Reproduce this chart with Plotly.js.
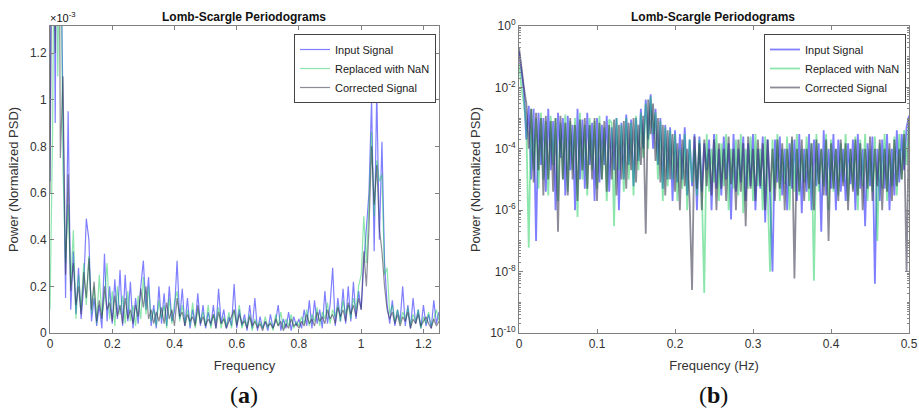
<!DOCTYPE html>
<html>
<head>
<meta charset="utf-8">
<script src="https://cdn.plot.ly/plotly-3.0.1.min.js"></script>
<style>html,body{margin:0;padding:0;background:#fff;}#chart{width:919px;height:413px;}</style>
</head>
<body>
<div id="chart"></div>
<script>
// ---------- Panel (a): power in units of 1e-3, frequency 0 .. 1.25 ----------
var fMaxA = 1.25;
var psdA_input = [0.65,3.0,0.9,2.5,1.8,0.88,0.15,0.95,0.1,0.35,0.08,0.28,0.06,0.2,0.49,0.4,0.05,0.15,0.03,0.12,
0.02,0.34,0.05,0.2,0.04,0.23,0.06,0.27,0.03,0.25,0.05,0.22,0.02,0.15,0.04,0.2,0.31,0.1,0.24,0.03,
0.12,0.02,0.2,0.04,0.17,0.03,0.2,0.05,0.09,0.31,0.06,0.19,0.03,0.15,0.02,0.1,0.04,0.17,0.03,0.12,
0.02,0.09,0.03,0.12,0.02,0.19,0.04,0.1,0.02,0.07,0.03,0.21,0.02,0.1,0.03,0.08,0.01,0.12,0.02,0.15,
0.01,0.07,0.02,0.05,0.01,0.08,0.02,0.05,0.12,0.01,0.06,0.02,0.09,0.01,0.07,0.03,0.06,0.02,0.1,0.03,
0.14,0.02,0.14,0.04,0.1,0.02,0.18,0.04,0.12,0.28,0.03,0.15,0.05,0.19,0.04,0.2,0.05,0.22,0.06,0.18,
0.1,0.3,0.46,0.6,1.0,0.35,1.04,0.4,0.82,0.3,0.12,0.04,0.14,0.03,0.1,0.05,0.2,0.03,0.12,0.02,
0.15,0.04,0.1,0.02,0.12,0.03,0.08,0.02,0.14,0.04,0.09];
var psdA_nan = [0.1,0.86,2.4,1.1,2.0,0.7,0.3,0.55,0.2,0.44,0.06,0.25,0.1,0.3,0.12,0.33,0.08,0.2,0.04,0.25,
0.07,0.15,0.3,0.06,0.18,0.03,0.2,0.08,0.16,0.04,0.18,0.05,0.12,0.03,0.16,0.06,0.24,0.08,0.2,0.05,
0.1,0.03,0.14,0.06,0.12,0.02,0.15,0.04,0.13,0.18,0.05,0.12,0.04,0.1,0.03,0.13,0.02,0.1,0.05,0.09,
0.03,0.12,0.02,0.08,0.05,0.11,0.02,0.07,0.03,0.09,0.02,0.1,0.04,0.12,0.02,0.06,0.03,0.08,0.01,0.06,
0.03,0.05,0.02,0.07,0.02,0.05,0.01,0.08,0.03,0.09,0.02,0.06,0.03,0.08,0.02,0.05,0.03,0.07,0.04,0.1,
0.03,0.08,0.05,0.11,0.03,0.09,0.06,0.13,0.04,0.1,0.07,0.12,0.05,0.14,0.08,0.12,0.06,0.15,0.1,0.2,
0.25,0.5,0.3,0.55,0.86,0.5,0.74,0.65,0.68,0.25,0.28,0.08,0.12,0.05,0.1,0.04,0.09,0.06,0.11,0.03,
0.08,0.05,0.1,0.02,0.07,0.04,0.09,0.03,0.06,0.1,0.05];
var psdA_corr = [0.6,2.2,1.2,3.0,0.75,1.1,0.25,0.68,0.18,0.3,0.12,0.2,0.08,0.26,0.15,0.32,0.1,0.22,0.05,0.14,
0.06,0.2,0.1,0.13,0.05,0.16,0.07,0.12,0.04,0.15,0.06,0.1,0.04,0.12,0.07,0.19,0.11,0.2,0.06,0.1,
0.04,0.09,0.05,0.11,0.04,0.13,0.06,0.1,0.03,0.15,0.07,0.09,0.03,0.08,0.05,0.07,0.03,0.12,0.04,0.07,
0.03,0.06,0.04,0.08,0.02,0.09,0.04,0.06,0.02,0.05,0.07,0.1,0.03,0.08,0.04,0.05,0.02,0.07,0.03,0.05,
0.02,0.04,0.01,0.05,0.03,0.04,0.02,0.06,0.03,0.05,0.01,0.04,0.02,0.06,0.03,0.04,0.02,0.05,0.03,0.08,
0.04,0.06,0.03,0.09,0.05,0.07,0.04,0.1,0.06,0.08,0.04,0.11,0.07,0.1,0.05,0.13,0.08,0.12,0.07,0.15,
0.1,0.35,0.2,0.45,0.8,0.55,0.72,0.45,0.35,0.2,0.1,0.06,0.09,0.04,0.08,0.03,0.07,0.05,0.09,0.02,
0.06,0.04,0.08,0.03,0.05,0.07,0.04,0.02,0.06,0.03,0.05];
var ticksA_x = [0, 0.2, 0.4, 0.6, 0.8, 1, 1.2];
var ticksA_xText = ["0", "0.2", "0.4", "0.6", "0.8", "1", "1.2"];
var ticksA_y = [0, 0.2, 0.4, 0.6, 0.8, 1, 1.2];
var ticksA_yText = ["0", "0.2", "0.4", "0.6", "0.8", "1", "1.2"];

// ---------- Panel (b): normalized PSD, frequency 0 .. 0.5 Hz ----------
var fMaxB = 0.5;
var psdB_input = [1.5e-1,3e-2,8e-3,2e-4,2.5e-3,1e-5,2e-3,1e-7,1.5e-3,3e-5,1e-3,4e-6,2e-3,2e-5,8e-4,1e-6,1.5e-3,5e-5,1e-3,3e-6,
1.2e-3,2e-5,6e-4,1e-6,2e-3,1e-5,9e-4,5e-6,1.5e-3,3e-5,7e-4,2e-6,1e-3,8e-6,6e-4,3e-5,1.2e-3,4e-6,5e-4,2e-5,
1e-3,1e-6,7e-4,1e-5,1.3e-3,3e-5,9e-4,6e-6,1e-3,4e-5,2e-3,1e-4,4e-3,2e-4,6e-3,1e-4,2e-3,3e-5,1e-3,5e-6,
6e-4,1e-5,5e-4,2e-6,4e-4,8e-6,3e-4,1e-5,5e-4,3e-6,2e-4,6e-6,3e-4,1e-6,2.5e-4,4e-6,1.5e-4,2e-5,2e-4,1e-6,
3e-4,5e-6,1e-4,3e-6,2.5e-4,1e-5,1.5e-4,5e-7,3e-4,4e-6,1e-4,8e-6,2.5e-4,2e-6,1.5e-4,6e-6,3e-4,1e-6,1e-4,5e-6,
2.5e-4,4e-7,2e-4,3e-6,1e-8,2e-4,8e-6,2.5e-4,3e-6,1e-4,1e-6,1.5e-4,5e-6,2e-4,2e-6,3e-4,8e-7,1e-4,4e-6,3e-4,
1e-6,2e-4,6e-6,1.5e-4,2e-7,4e-4,3e-6,1e-4,5e-6,3e-4,1e-6,2e-4,4e-6,1e-4,2e-6,1.5e-4,7e-6,2e-4,1e-6,3e-4,
5e-6,1e-4,3e-7,1.5e-4,6e-6,2.5e-4,4e-9,1e-4,2e-6,2e-4,5e-6,3e-4,1e-6,1e-4,3e-6,4e-4,8e-6,3e-4,2e-5,5e-4,
1.2e-3];
var psdB_nan = [6e-2,1e-2,3e-3,5e-4,6e-8,2e-3,2e-5,1e-3,5e-6,1.5e-3,1e-5,8e-4,3e-6,1.2e-3,3e-5,1e-3,2e-6,7e-4,1e-5,1.3e-3,
4e-6,8e-4,2e-5,1e-3,6e-7,1.5e-3,1e-5,6e-4,3e-6,1e-3,2e-5,8e-4,5e-6,1.2e-3,1e-5,5e-4,2e-6,9e-4,7e-4,3e-7,
1e-3,2e-5,6e-4,4e-6,1e-3,1e-5,7e-4,3e-6,1.2e-3,2e-5,1.5e-3,5e-5,3e-3,1e-4,5e-3,3e-4,1.5e-3,1e-5,8e-4,2e-6,
5e-4,6e-6,4e-4,1e-5,3e-4,2e-6,1e-4,5e-6,3e-4,1e-6,2e-4,8e-6,1e-4,3e-6,2e-4,5e-6,2e-9,3e-4,4e-6,1e-4,
8e-6,3e-4,2e-6,1.5e-4,6e-6,3e-4,1e-6,1e-4,5e-6,2e-4,3e-6,3e-4,8e-7,1e-4,5e-6,2.5e-4,2e-6,3e-4,6e-6,1e-4,
1e-6,2.5e-4,4e-6,1e-8,2e-4,5e-6,3e-4,2e-6,1e-4,7e-6,2.5e-4,1e-6,2e-4,4e-6,3e-4,3e-6,1e-4,8e-6,2.5e-4,2e-6,
1.5e-4,5e-9,3e-4,4e-6,1e-4,6e-6,3e-4,1e-6,2e-4,4e-6,1e-4,3e-6,1.5e-4,8e-6,3e-4,2e-6,1e-4,5e-6,2.5e-4,1e-6,
2e-4,6e-6,3e-4,2e-6,1e-4,4e-6,2.5e-4,1e-7,1.5e-4,5e-6,3e-4,2e-6,1e-4,6e-6,2.5e-4,3e-6,3e-4,1e-5,4e-4,3e-5,
8e-4];
var psdB_corr = [2e-1,4e-2,1e-2,3e-3,1e-4,2e-3,8e-6,1.5e-3,2e-5,1e-3,3e-6,1.2e-3,1e-5,8e-4,4e-6,1e-3,2e-7,1.2e-3,1e-5,7e-4,
3e-6,1e-3,1e-5,6e-4,2e-6,9e-4,2e-5,1e-3,5e-6,6e-4,1e-5,1e-3,2e-6,7e-4,1e-5,8e-4,4e-6,6e-4,1e-5,9e-4,
3e-6,6e-4,1e-5,8e-4,5e-6,7e-4,2e-5,1e-3,8e-6,6e-4,3e-5,1.2e-3,1.7e-7,4e-3,3e-4,3e-3,4e-5,1e-3,8e-6,6e-4,
3e-6,4e-4,1e-5,3e-4,4e-6,1.5e-4,1e-6,2e-4,6e-6,1e-4,2e-6,2.5e-9,2.5e-4,5e-6,1.5e-4,1e-6,2e-4,6e-6,1e-4,3e-6,
2e-4,1e-6,1.5e-4,5e-6,1e-4,2e-6,2.5e-4,7e-6,1e-4,1e-6,2e-4,4e-6,1.5e-4,3e-7,2.5e-4,5e-6,1e-4,2e-6,2e-4,6e-6,
1.5e-4,1e-6,2e-4,4e-6,1e-4,2e-6,2e-4,5e-6,1.5e-4,1e-6,1e-4,6e-6,2.5e-4,6e-9,1e-4,4e-6,2e-4,2e-6,1e-4,5e-6,
1.5e-4,1e-6,2e-4,7e-6,1e-4,3e-6,2e-4,1e-7,1.5e-4,5e-6,1e-4,2e-6,2e-4,6e-6,1.5e-4,1e-6,1e-4,4e-6,2e-4,3e-6,
1.5e-4,1e-6,1e-4,5e-6,2.5e-4,2e-6,1e-4,6e-6,2e-4,1e-6,1e-4,4e-6,1.5e-4,2e-6,2e-4,6e-6,1e-4,1e-5,3e-4,1e-8,
1e-3];
var ticksB_x = [0, 0.1, 0.2, 0.3, 0.4, 0.5];
var ticksB_xText = ["0", "0.1", "0.2", "0.3", "0.4", "0.5"];
var ticksB_y = [1e-10, 1e-8, 1e-6, 1e-4, 1e-2, 1];
var ticksB_yText = ["10<sup>-10</sup>", "10<sup>-8</sup>", "10<sup>-6</sup>", "10<sup>-4</sup>", "10<sup>-2</sup>", "10<sup>0</sup>"];

var seriesNames = ["Input Signal", "Replaced with NaN", "Corrected Signal"];
var seriesColors = ["rgba(0,0,255,0.5)", "rgba(0,200,70,0.45)", "rgba(45,45,70,0.55)"];

function grid(arr, fmax) {
  return arr.map(function (_, i) { return i * fmax / (arr.length - 1); });
}

var dataA = [psdA_input, psdA_nan, psdA_corr];
var dataB = [psdB_input, psdB_nan, psdB_corr];
var traces = [];
dataA.forEach(function (arr, k) {
  traces.push({x: grid(arr, fMaxA), y: arr, type: 'scatter', mode: 'lines', name: seriesNames[k],
    line: {color: seriesColors[k], width: 1.2}, xaxis: 'x', yaxis: 'y', legend: 'legend'});
});
dataB.forEach(function (arr, k) {
  traces.push({x: grid(arr, fMaxB), y: arr, type: 'scatter', mode: 'lines', name: seriesNames[k],
    line: {color: seriesColors[k], width: 1.8}, xaxis: 'x2', yaxis: 'y2', legend: 'legend2'});
});

var FONT = 'Liberation Sans, Arial, Helvetica, sans-serif';
var axisCommon = {
  showgrid: false, zeroline: false, showline: true, linecolor: '#808080', linewidth: 1,
  mirror: 'ticks', ticks: 'inside', ticklen: 4, tickcolor: '#808080',
  tickfont: {family: FONT, size: 12, color: '#333'}
};
function ax(extra) { return Object.assign({}, axisCommon, extra); }

var yDom = [1 - 333 / 413, 1 - 26 / 413];
var legendCommon = {
  bgcolor: '#fff', bordercolor: '#444', borderwidth: 1,
  font: {family: FONT, size: 11, color: '#222'}, xanchor: 'right', yanchor: 'top',
  tracegroupgap: 0, itemwidth: 30
};
function note(text, px, py, size, family, xa, ya) {
  return {text: text, x: px / 919, y: 1 - py / 413, xref: 'paper', yref: 'paper', showarrow: false,
    xanchor: xa || 'center', yanchor: ya || 'middle', font: {family: family || FONT, size: size, color: '#111'}};
}

var layout = {
  width: 919, height: 413, margin: {l: 0, r: 0, t: 0, b: 0},
  paper_bgcolor: '#fff', plot_bgcolor: '#fff', showlegend: true,
  xaxis: ax({domain: [50 / 919, 439 / 919], range: [0, fMaxA], tickvals: ticksA_x, ticktext: ticksA_xText,
    title: {text: 'Frequency', font: {family: FONT, size: 13, color: '#333'}, standoff: 10}, anchor: 'y'}),
  yaxis: ax({domain: yDom, range: [0, 1.316], tickvals: ticksA_y, ticktext: ticksA_yText,
    title: {text: 'Power (Normalized PSD)', font: {family: FONT, size: 13, color: '#333'}, standoff: 8}, anchor: 'x'}),
  xaxis2: ax({domain: [519 / 919, 909 / 919], range: [0, fMaxB], tickvals: ticksB_x, ticktext: ticksB_xText,
    title: {text: 'Frequency (Hz)', font: {family: FONT, size: 13, color: '#333'}, standoff: 10}, anchor: 'y2'}),
  yaxis2: ax({domain: yDom, type: 'log', range: [-10, 0], tickvals: ticksB_y, ticktext: ticksB_yText,
    minor: {ticks: 'inside', ticklen: 2, tickcolor: '#888', dtick: 'D1', showgrid: false},
    title: {text: 'Power (Normalized PSD)', font: {family: FONT, size: 13, color: '#333'}, standoff: 6}, anchor: 'x2'}),
  legend: Object.assign({}, legendCommon, {x: 436 / 919, y: 1 - 34 / 413}),
  legend2: Object.assign({}, legendCommon, {x: 906 / 919, y: 1 - 34 / 413}),
  annotations: [
    note('<b>Lomb-Scargle Periodograms</b>', 244, 17, 12),
    note('<b>Lomb-Scargle Periodograms</b>', 713, 17, 12),
    note('×10<sup>-3</sup>', 48, 26, 11, FONT, 'left', 'bottom'),
    note('(<b>a</b>)', 244, 395, 24, 'Liberation Serif, Times New Roman, serif'),
    note('(<b>b</b>)', 713, 395, 24, 'Liberation Serif, Times New Roman, serif')
  ]
};

Plotly.newPlot('chart', traces, layout, {displayModeBar: false, staticPlot: true});
</script>
</body>
</html>
